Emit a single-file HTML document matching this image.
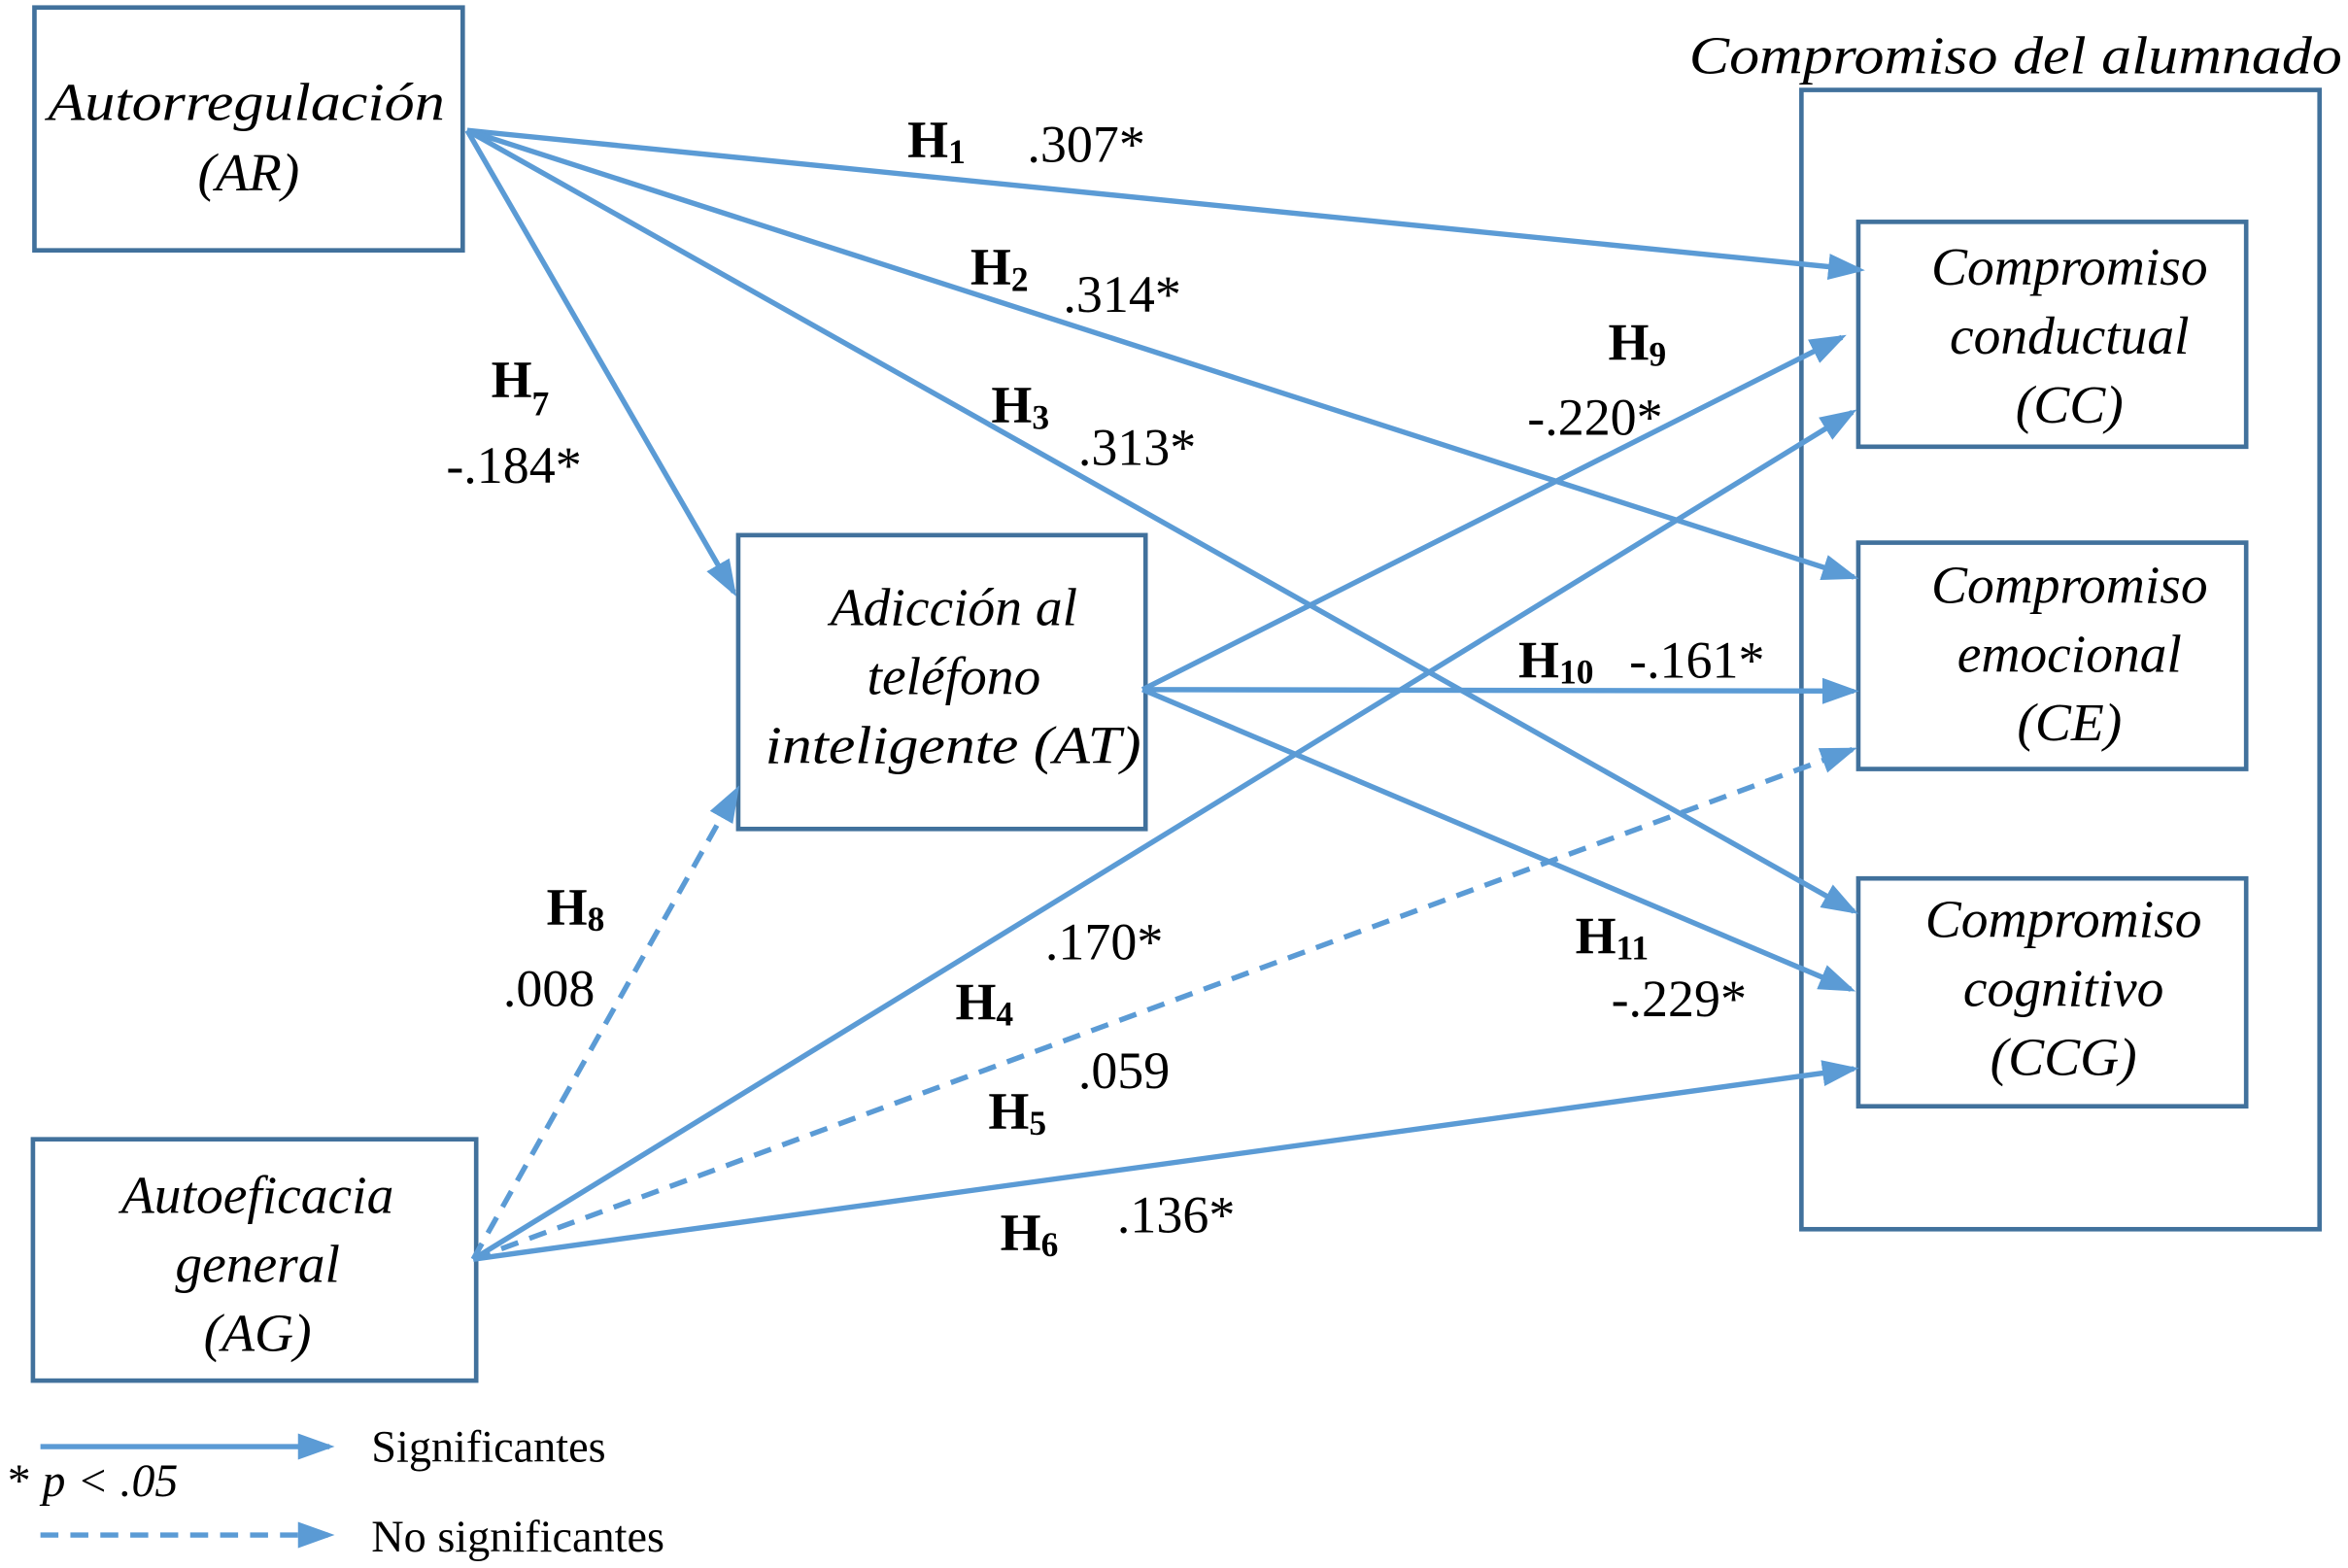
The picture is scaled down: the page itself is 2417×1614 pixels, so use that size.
<!DOCTYPE html>
<html><head><meta charset="utf-8"><style>
html,body{margin:0;padding:0;background:#fff;}
svg{display:block;}
svg text{font-family:"Liberation Serif","DejaVu Serif","Times New Roman",serif !important;fill:#000;}
.bx{fill:#fff;stroke:#41719c;stroke-width:3;}
.ln{stroke:#5b9bd5;stroke-width:3.5;fill:none;}
.d{stroke-dasharray:12,8;}
.it{font-style:italic;font-size:36px;}
.h{font-weight:bold;font-size:35px;}
.hs{font-weight:bold;font-size:23px;}
.v{font-size:35px;}
</style></head><body>
<svg width="2417" height="1614" viewBox="0 0 1568 1046" preserveAspectRatio="none" xmlns="http://www.w3.org/2000/svg" font-family="Liberation Serif, serif">
<defs><marker id="a" markerWidth="7" markerHeight="5" refX="6" refY="2.5" orient="auto" markerUnits="strokeWidth"><path d="M0,0 L7,2.5 L0,5 z" fill="#5b9bd5"/></marker></defs>
<rect x="0" y="0" width="1568" height="1046" fill="#fff"/>
<rect class="bx" x="1203" y="60" width="346" height="760"/>
<text class="it" x="1128" y="49" textLength="436" lengthAdjust="spacingAndGlyphs">Compromiso del alumnado</text>
<rect class="bx" x="23" y="5" width="286" height="162"/>
<text class="it" x="32" y="80" textLength="265" lengthAdjust="spacingAndGlyphs">Autorregulación</text>
<text class="it" x="166" y="127" text-anchor="middle">(AR)</text>
<rect class="bx" x="493" y="357" width="272" height="196"/>
<text class="it" x="637" y="417" text-anchor="middle">Adicción al</text>
<text class="it" x="637" y="463" text-anchor="middle">teléfono</text>
<text class="it" x="511" y="509" textLength="251" lengthAdjust="spacingAndGlyphs">inteligente (AT)</text>
<rect class="bx" x="22" y="760" width="296" height="161"/>
<text class="it" x="172" y="809" text-anchor="middle">Autoeficacia</text>
<text class="it" x="172" y="855" text-anchor="middle">general</text>
<text class="it" x="172" y="901" text-anchor="middle">(AG)</text>
<rect class="bx" x="1241" y="148" width="259" height="150"/>
<text class="it" x="1382" y="190" text-anchor="middle">Compromiso</text>
<text class="it" x="1382" y="236" text-anchor="middle">conductual</text>
<text class="it" x="1382" y="282" text-anchor="middle">(CC)</text>
<rect class="bx" x="1241" y="362" width="259" height="151"/>
<text class="it" x="1382" y="402" text-anchor="middle">Compromiso</text>
<text class="it" x="1382" y="448" text-anchor="middle">emocional</text>
<text class="it" x="1382" y="494" text-anchor="middle">(CE)</text>
<rect class="bx" x="1241" y="586" width="259" height="152"/>
<text class="it" x="1378" y="625" text-anchor="middle">Compromiso</text>
<text class="it" x="1378" y="671" text-anchor="middle">cognitivo</text>
<text class="it" x="1378" y="717" text-anchor="middle">(CCG)</text>

<line class="ln" x1="312" y1="87" x2="1242" y2="180" marker-end="url(#a)"/>
<line class="ln" x1="312" y1="87" x2="1238" y2="385" marker-end="url(#a)"/>
<line class="ln" x1="312" y1="87" x2="1238" y2="608" marker-end="url(#a)"/>
<line class="ln" x1="312" y1="87" x2="490" y2="395" marker-end="url(#a)"/>
<line class="ln" x1="763" y1="460" x2="1230" y2="225" marker-end="url(#a)"/>
<line class="ln" x1="763" y1="460" x2="1238" y2="461" marker-end="url(#a)"/>
<line class="ln" x1="763" y1="460" x2="1236" y2="660" marker-end="url(#a)"/>
<line class="ln" x1="316" y1="840" x2="1237" y2="275" marker-end="url(#a)"/>
<line class="ln d" x1="316" y1="840" x2="1237" y2="500" marker-end="url(#a)"/>
<line class="ln" x1="316" y1="840" x2="1238" y2="713" marker-end="url(#a)"/>
<line class="ln d" x1="316" y1="840" x2="492" y2="527" marker-end="url(#a)"/>

<text x="606" y="105"><tspan class="h">H</tspan><tspan class="hs" dy="4">1</tspan></text><text class="v" x="686" y="108">.307*</text>
<text x="648" y="190"><tspan class="h">H</tspan><tspan class="hs" dy="4">2</tspan></text><text class="v" x="710" y="208">.314*</text>
<text x="662" y="282"><tspan class="h">H</tspan><tspan class="hs" dy="4">3</tspan></text><text class="v" x="720" y="310">.313*</text>
<text x="328" y="265"><tspan class="h">H</tspan><tspan class="hs" dy="12">7</tspan></text><text class="v" x="298" y="322">-.184*</text>
<text x="1074" y="240"><tspan class="h">H</tspan><tspan class="hs" dy="4">9</tspan></text><text class="v" x="1020" y="290">-.220*</text>
<text x="1014" y="452"><tspan class="h">H</tspan><tspan class="hs" dy="4">10</tspan></text><text class="v" x="1088" y="452">-.161*</text>
<text x="1052" y="636"><tspan class="h">H</tspan><tspan class="hs" dy="4">11</tspan></text><text class="v" x="1076" y="678">-.229*</text>
<text x="365" y="617"><tspan class="h">H</tspan><tspan class="hs" dy="4">8</tspan></text><text class="v" x="336" y="671">.008</text>
<text class="v" x="698" y="640">.170*</text>
<text x="638" y="680"><tspan class="h">H</tspan><tspan class="hs" dy="4">4</tspan></text>
<text class="v" x="720" y="726">.059</text>
<text x="660" y="753"><tspan class="h">H</tspan><tspan class="hs" dy="4">5</tspan></text>
<text x="668" y="834"><tspan class="h">H</tspan><tspan class="hs" dy="4">6</tspan></text><text class="v" x="746" y="822">.136*</text>

<line class="ln" x1="27" y1="965" x2="220" y2="965" marker-end="url(#a)"/>
<text x="248" y="975" font-size="30">Significantes</text>
<text x="5" y="998" font-size="31">* <tspan font-style="italic">p &lt; .05</tspan></text>
<line class="ln d" x1="27" y1="1024" x2="220" y2="1024" marker-end="url(#a)"/>
<text x="248" y="1035" font-size="30">No significantes</text>
</svg>
</body></html>
